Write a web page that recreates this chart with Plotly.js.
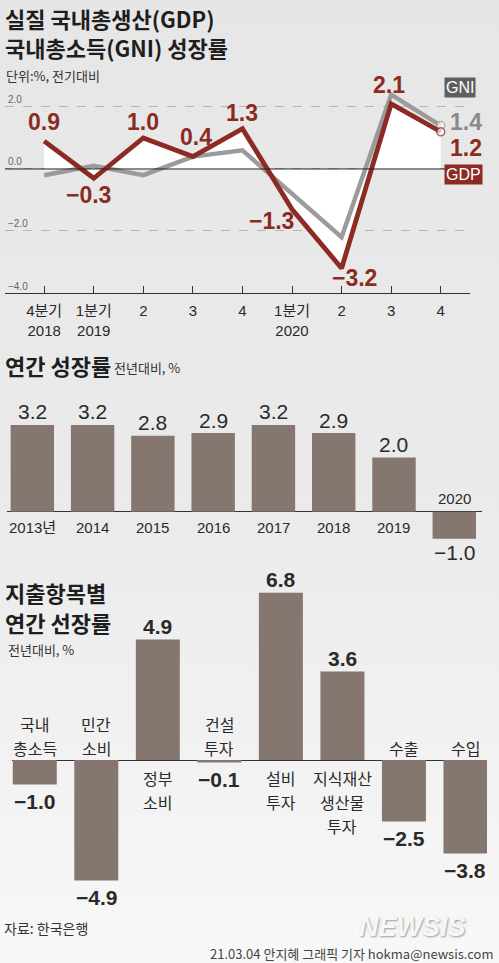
<!DOCTYPE html>
<html>
<head>
<meta charset="utf-8">
<script src="https://cdn.plot.ly/plotly-3.0.1.min.js"></script>
<style>
  html, body { margin:0; padding:0; }
  body { width:499px; height:963px; background: linear-gradient(#e6e6e6 0%, #ebebeb 55%, #f8f8f8 100%); }
  #chart { width:499px; height:963px; }
</style>
</head>
<body>
<div id="chart"></div>
<script>
// ---------------- DATA ----------------
const quarters = ["4분기<br>2018", "1분기<br>2019", "2", "3", "4", "1분기<br>2020", "2", "3", "4"];
const gdpQ = [0.9, -0.3, 1.0, 0.4, 1.3, -1.3, -3.2, 2.1, 1.2];
const gniQ = [-0.2, 0.1, -0.2, 0.4, 0.6, -0.8, -2.2, 2.4, 1.4];
const qTickVals = [2, 0, -2, -4];
const qTickText = ["2.0", "0.0", "−2.0", "−4.0"];

const years = ["2013년", "2014", "2015", "2016", "2017", "2018", "2019", "2020"];
const annualGrowth = [3.2, 3.2, 2.8, 2.9, 3.2, 2.9, 2.0, -1.0];

const items = ["국내<br>총소득", "민간<br>소비", "정부<br>소비", "건설<br>투자", "설비<br>투자", "지식재산<br>생산물<br>투자", "수출", "수입"];
const itemGrowth = [-1.0, -4.9, 4.9, -0.1, 6.8, 3.6, -2.5, -3.8];

// ---------------- STYLE ----------------
const W = 499, H = 963;
const px = v => v / W;
const py = v => 1 - v / H;
const NUM = "'Liberation Sans Narrow', 'Liberation Sans', 'Noto Sans CJK KR', sans-serif";
const KR = "'Noto Sans CJK KR', sans-serif";
const RED = "#8b2b23", GRAY = "#9b9b9b", BAR = "#85766f", TXT = "#2a2a2a";
const fmt = v => v.toFixed(1).replace("-", "−");

// label offsets (px) for the quarterly line labels: [dx, dy, anchor]
const gdpLabelOff = [[0,19,"center"],[-5,-17,"center"],[0,16,"center"],[3,20,"center"],[0,16,"center"],[-21,-12,"center"],[13,-10,"center"],[-2,19,"center"],[7,-16,"left"]];
const gniLastOff = [7, 4, "left"];

const idxQ = quarters.map((_, i) => i);
const idxY = years.map((_, i) => i);
const idxI = items.map((_, i) => i);

const traces = [
  { // white area between GDP and zero
    x: idxQ, y: gdpQ, type: "scatter", mode: "lines", fill: "tozeroy",
    fillcolor: "#ffffff", line: { width: 0, color: "rgba(0,0,0,0)" },
    hoverinfo: "skip", xaxis: "x", yaxis: "y", cliponaxis: false
  },
  {
    x: idxQ, y: gniQ, type: "scatter", mode: "lines+markers",
    line: { color: GRAY, width: 4.5 },
    marker: { size: gniQ.map((_, i) => i === gniQ.length - 1 ? 8 : 0), color: "#ffffff", line: { color: GRAY, width: 1.5 } },
    xaxis: "x", yaxis: "y", cliponaxis: false
  },
  {
    x: idxQ, y: gdpQ, type: "scatter", mode: "lines+markers",
    line: { color: RED, width: 4.8 },
    marker: { size: gdpQ.map((_, i) => i === gdpQ.length - 1 ? 8 : 0), color: "#ffffff", line: { color: RED, width: 1.5 } },
    xaxis: "x", yaxis: "y", cliponaxis: false
  },
  {
    x: idxY, y: annualGrowth, type: "bar", width: 0.72, marker: { color: BAR },
    xaxis: "x2", yaxis: "y2", cliponaxis: false
  },
  {
    x: idxI, y: itemGrowth, type: "bar", width: 0.715, marker: { color: BAR },
    xaxis: "x3", yaxis: "y3", cliponaxis: false
  }
];

const ann = [];
function pap(text, x, y, size, opts) {
  ann.push(Object.assign({ text, x: px(x), y: py(y), xref: "paper", yref: "paper",
    xanchor: "left", yanchor: "middle", showarrow: false,
    font: { family: KR, size, color: TXT } }, opts || {}));
}
// Titles
pap("실질 국내총생산(GDP)", 3, 18, 22, { font: { family: KR, size: 22, color: "#1e1e1e", weight: 700 } });
pap("국내총소득(GNI) 성장률", 3, 47, 22, { font: { family: KR, size: 22, color: "#1e1e1e", weight: 700 } });
pap("단위:%, 전기대비", 4, 75, 13, { font: { family: KR, size: 13, color: "#333" } });
pap("연간 성장률", 3, 365, 22, { font: { family: KR, size: 22, color: "#1e1e1e", weight: 700 } });
pap("전년대비, %", 112, 367, 13, { font: { family: KR, size: 13, color: "#333" } });
pap("지출항목별", 3, 592, 22, { font: { family: KR, size: 22, color: "#1e1e1e", weight: 700 } });
pap("연간 선장률", 3, 622, 22, { font: { family: KR, size: 22, color: "#1e1e1e", weight: 700 } });
pap("전년대비, %", 6, 649, 13, { font: { family: KR, size: 13, color: "#333" } });
pap("자료: 한국은행", 2, 928, 14, { font: { family: KR, size: 14, color: "#333" } });
pap("21.03.04 안지혜 그래픽 기자 hokma@newsis.com", 496, 953, 13, { xanchor: "right", font: { family: KR, size: 13, color: "#444" } });
pap("NEWSIS", 412, 927, 27, { xanchor: "center", borderpad: 0, font: { family: "'Liberation Sans', sans-serif", size: 27, color: "#f7f7f7", weight: 700, style: "italic", shadow: "1px 1px 2px #9a9a9a" } });

// legend tags
pap("GNI", 459.5, 88, 16, { xanchor: "center", bgcolor: "#5e5e5e", borderpad: 1, font: { family: NUM, size: 16, color: "#fff" } });
pap("GDP", 463, 175, 16, { xanchor: "center", bgcolor: RED, borderpad: 1, font: { family: NUM, size: 16, color: "#fff" } });

// GDP labels
gdpQ.forEach((v, i) => {
  ann.push({ text: fmt(v), x: i, y: v, xref: "x", yref: "y", showarrow: false,
    xanchor: gdpLabelOff[i][2], yanchor: "middle", xshift: gdpLabelOff[i][0], yshift: gdpLabelOff[i][1],
    font: { family: NUM, size: 23, color: RED, weight: 700 } });
});
{
  const i = gniQ.length - 1;
  ann.push({ text: fmt(gniQ[i]), x: i, y: gniQ[i], xref: "x", yref: "y", showarrow: false,
    xanchor: gniLastOff[2], yanchor: "middle", xshift: gniLastOff[0], yshift: gniLastOff[1],
    font: { family: NUM, size: 23, color: "#8a8a8a", weight: 700 } });
}

// annual labels
annualGrowth.forEach((v, i) => {
  ann.push({ text: fmt(v), x: i, y: v, xref: "x2", yref: "y2", showarrow: false,
    xanchor: "center", yanchor: "middle", yshift: v >= 0 ? 13 : -14,
    font: { family: NUM, size: 21, color: TXT } });
  ann.push({ text: years[i], x: i, y: 0, xref: "x2", yref: "y2", showarrow: false,
    xanchor: "center", yanchor: "middle", yshift: v >= 0 ? -15.5 : 13.5,
    font: { family: NUM, size: 15, color: TXT } });
});

// expenditure labels
itemGrowth.forEach((v, i) => {
  ann.push({ text: fmt(v), x: i, y: v, xref: "x3", yref: "y3", showarrow: false,
    xanchor: "center", yanchor: "middle", yshift: v >= 0 ? 13 : -17,
    font: { family: NUM, size: 21, color: TXT, weight: 700 } });
  const lines = items[i].split("<br>");
  const n = lines.length;
  lines.forEach((ln, k) => {
    const ys = v < 0 ? (12 + (n - 1 - k) * 24.5) : -(18 + k * 24);
    ann.push({ text: ln, x: i, y: 0, xref: "x3", yref: "y3", showarrow: false,
      xanchor: "center", yanchor: "middle", yshift: ys,
      font: { family: KR, size: 16, color: TXT } });
  });
});

const layout = {
  width: W, height: H,
  margin: { l: 0, r: 0, t: 0, b: 0 },
  paper_bgcolor: "rgba(0,0,0,0)", plot_bgcolor: "rgba(0,0,0,0)",
  showlegend: false,
  xaxis: {
    domain: [px(5), px(470)], range: [-0.79, 8.59], anchor: "y",
    tickvals: idxQ, ticktext: quarters, ticks: "inside", ticklen: 7, tickcolor: "#333", tickwidth: 1,
    ticklabelstandoff: 4,
    showline: true, linecolor: "#333", linewidth: 1, showgrid: false, zeroline: false,
    tickfont: { family: NUM, size: 15, color: TXT }, fixedrange: true
  },
  yaxis: {
    domain: [py(293), py(80)], range: [-4, 2.87], anchor: "x",
    tickvals: qTickVals, ticktext: qTickText, ticklabelposition: "inside top", ticks: "",
    tickfont: { family: NUM, size: 10, color: "#666" },
    showgrid: true, gridcolor: "#b5b5b5", griddash: "dash", gridwidth: 1,
    zeroline: false, showline: false, fixedrange: true
  },
  xaxis2: {
    domain: [px(7), px(482)], range: [-0.42, 7.46], anchor: "y2",
    showticklabels: false, ticks: "", showgrid: false, zeroline: false, showline: false, fixedrange: true
  },
  yaxis2: {
    domain: [py(560), py(400)], range: [-1.782, 4.122], anchor: "x2",
    showticklabels: false, ticks: "", showgrid: false, zeroline: true, zerolinecolor: "#333", zerolinewidth: 1,
    showline: false, fixedrange: true
  },
  xaxis3: {
    domain: [px(12), px(487)], range: [-0.37, 7.35], anchor: "y3",
    showticklabels: false, ticks: "", showgrid: false, zeroline: false, showline: false, fixedrange: true
  },
  yaxis3: {
    domain: [py(910), py(570)], range: [-6.098, 7.724], anchor: "x3",
    showticklabels: false, ticks: "", showgrid: false, zeroline: true, zerolinecolor: "#333", zerolinewidth: 1,
    showline: false, fixedrange: true
  },
  shapes: [
    { type: "line", xref: "x domain", yref: "y", x0: 0, x1: 1, y0: 0, y1: 0,
      line: { color: "#222", width: 1 }, layer: "above" }
  ],
  annotations: ann
};

Plotly.newPlot("chart", traces, layout, { displayModeBar: false, staticPlot: true });
</script>
</body>
</html>
